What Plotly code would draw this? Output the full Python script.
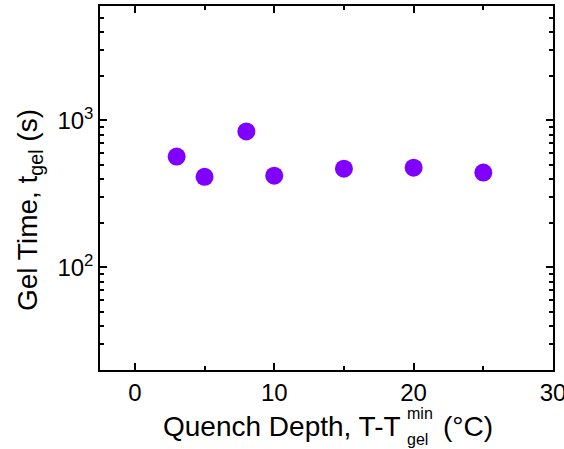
import numpy as np
import plotly.graph_objects as go

quench_depth = [3, 5, 8, 10, 15, 20, 25]
gel_time = [567, 413, 841, 420, 469, 476, 441]

x_tickvals = [0, 10, 20, 30]
x_ticktext = ["0", "10", "20", "30"]
y_tickvals = [100, 1000]
y_ticktext = ["10<sup>2</sup>", "10<sup>3</sup>"]

FONT = "Liberation Sans, Arial, sans-serif"
L, R, T, B = 100, 11, 6, 79
W, H = 564, 449
PW, PH = W - L - R, H - T - B

def px(xp):
    return (xp - L) / PW

def py(yp):
    return (H - B - yp) / PH

fig = go.Figure()
fig.add_trace(go.Scatter(
    x=quench_depth, y=gel_time, mode="markers",
    marker=dict(size=18, color="#7f00ff", line=dict(width=0)),
    showlegend=False, hoverinfo="skip",
))

axis_common = dict(
    showline=True, linecolor="black", linewidth=1.5, mirror="ticks",
    ticks="inside", tickcolor="black", tickwidth=1.5, ticklen=7,
    showgrid=False, zeroline=False, ticklabeloverflow="allow", automargin=False,
    tickfont=dict(family=FONT, size=24, color="black"),
)

fig.update_xaxes(
    range=[-2.5, 30], tickmode="array", tickvals=x_tickvals, ticktext=x_ticktext,
    minor=dict(ticks="inside", ticklen=4, tickwidth=1.5, tickcolor="black", dtick=5, tick0=0),
    **axis_common,
)
fig.update_yaxes(
    type="log", range=[np.log10(20), np.log10(6000)],
    tickmode="array", tickvals=y_tickvals, ticktext=y_ticktext,
    minor=dict(ticks="inside", ticklen=4, tickwidth=1.5, tickcolor="black",
               tickvals=[20, 30, 40, 50, 60, 70, 80, 90, 200, 300, 400, 500, 600, 700, 800, 900,
                         2000, 3000, 4000, 5000, 6000]),
    **axis_common,
)

title_font = dict(family=FONT, size=28, color="black")
small_font = dict(family=FONT, size=16, color="black")
annotations = [
    dict(text="Quench Depth, T-T", x=px(403), y=py(427), xref="paper", yref="paper",
         xanchor="right", yanchor="middle", showarrow=False, font=title_font),
    dict(text="min", x=px(405), y=py(413), xref="paper", yref="paper",
         xanchor="left", yanchor="middle", showarrow=False, font=small_font),
    dict(text="gel", x=px(405), y=py(439), xref="paper", yref="paper",
         xanchor="left", yanchor="middle", showarrow=False, font=small_font),
    dict(text="(°C)", x=px(441), y=py(427), xref="paper", yref="paper",
         xanchor="left", yanchor="middle", showarrow=False, font=title_font),
    dict(text="Gel Time, t<sub>gel</sub> (s)", x=px(29), y=py(210), xref="paper", yref="paper",
         xanchor="center", yanchor="middle", textangle=-90, showarrow=False, font=title_font),
]

fig.update_layout(
    width=W, height=H,
    margin=dict(l=L, r=R, t=T, b=B),
    paper_bgcolor="white", plot_bgcolor="white",
    annotations=annotations,
)

fig.write_html("out.html", config={"displayModeBar": False},
               post_script="document.body.style.margin='0';document.body.style.padding='0';")
